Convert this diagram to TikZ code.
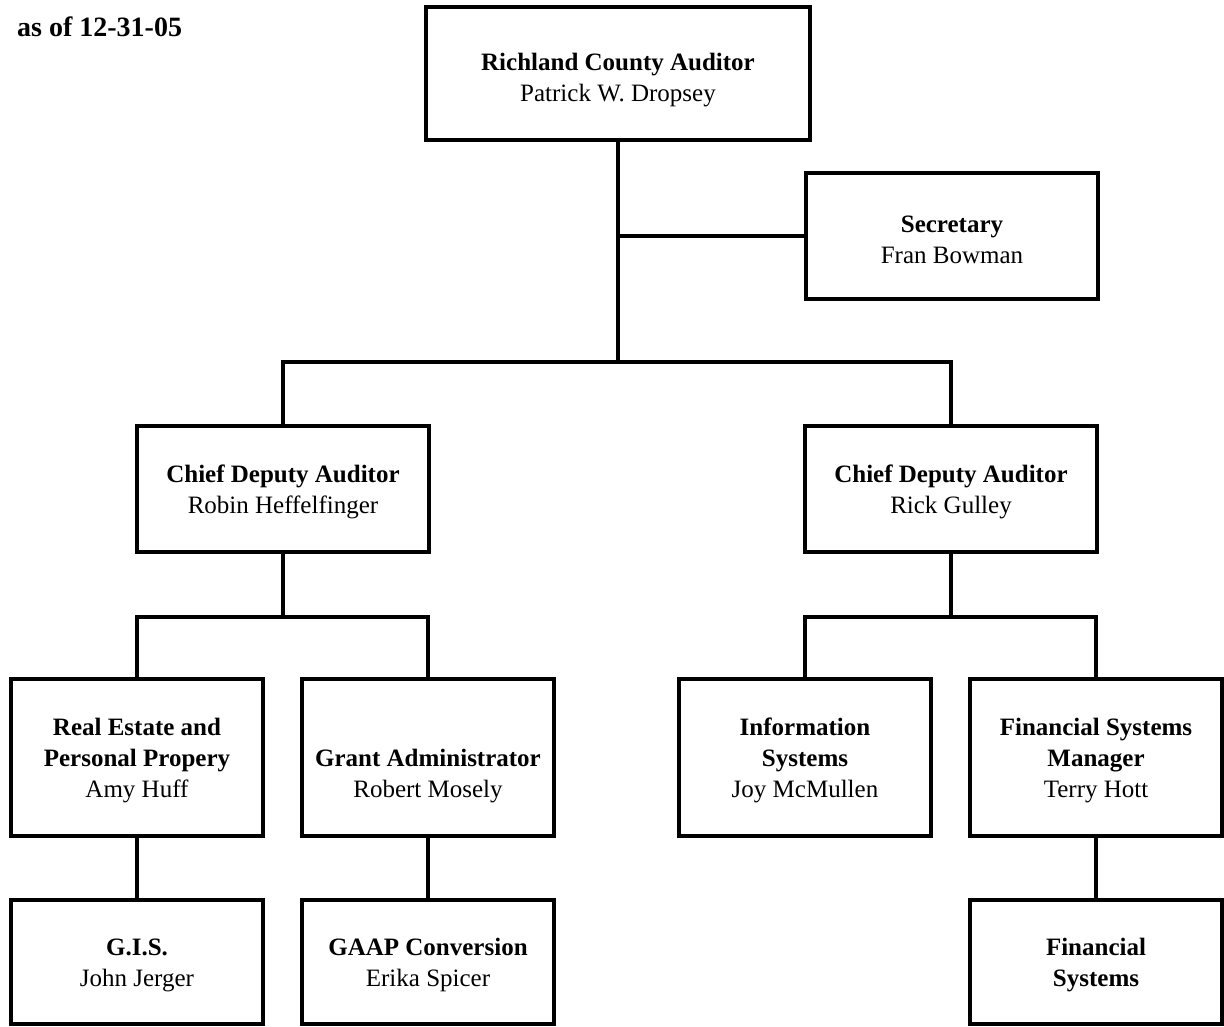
\documentclass[tikz,border=0pt]{standalone}
\usepackage{fontspec}
\setmainfont{Liberation Serif}
\newcommand{\padA}{\rule{0pt}{24pt}}
\newcommand{\padB}{\rule{0pt}{31pt}}
\begin{document}
\begin{tikzpicture}[x=1pt,y=-1pt,
  box/.style={draw, line width=4pt, inner sep=0pt, align=center, font=\fontsize{25}{31}\selectfont},
  wbox/.style={box, minimum width=292pt, minimum height=126pt},
  sbox/.style={box, minimum width=252pt, minimum height=157pt},
  lbox/.style={box, minimum width=252pt, minimum height=124pt},
  conn/.style={line width=3.5pt}]
\useasboundingbox (0,0) rectangle (1224,1026);
\node[anchor=base west, inner sep=0pt, font=\bfseries\fontsize{28}{34}\selectfont] (date) at (17,36) {as of 12-31-05};
\node[box, minimum width=384pt, minimum height=133pt] (top) at (618,73.5) {\padB\textbf{Richland County Auditor}\\Patrick W. Dropsey};
\node[wbox] (sec) at (952,236) {\padA\textbf{Secretary}\\Fran Bowman};
\node[wbox] (cl) at (283,489) {\padA\textbf{Chief Deputy Auditor}\\Robin Heffelfinger};
\node[wbox] (cr) at (951,489) {\padA\textbf{Chief Deputy Auditor}\\Rick Gulley};
\node[sbox] (re) at (137,757.5) {\padA\textbf{Real Estate and}\\\textbf{Personal Propery}\\Amy Huff};
\node[sbox] (ga) at (428,757.5) {\padA\\\textbf{Grant Administrator}\\Robert Mosely};
\node[sbox] (is) at (805,757.5) {\padA\textbf{Information}\\\textbf{Systems}\\Joy McMullen};
\node[sbox] (fm) at (1096,757.5) {\padA\textbf{Financial Systems}\\\textbf{Manager}\\Terry Hott};
\node[lbox] (gis) at (137,962) {\padA\textbf{G.I.S.}\\John Jerger};
\node[lbox] (gaap) at (428,962) {\padA\textbf{GAAP Conversion}\\Erika Spicer};
\node[lbox] (fs) at (1096,962) {\padA\textbf{Financial}\\\textbf{Systems}};
\coordinate (j1) at (618,362);
\coordinate (j2) at (283,617);
\coordinate (j3) at (951,617);
\draw[conn] (top.south) -- (j1);
\draw[conn] (top.south |- sec.west) -- (sec.west);
\draw[conn] (cl.north) |- (j1) -| (cr.north);
\draw[conn] (cl.south) -- (j2);
\draw[conn] (re.north) |- (j2) -| (ga.north);
\draw[conn] (cr.south) -- (j3);
\draw[conn] (is.north) |- (j3) -| (fm.north);
\draw[conn] (re.south) -- (gis.north);
\draw[conn] (ga.south) -- (gaap.north);
\draw[conn] (fm.south) -- (fs.north);
\end{tikzpicture}
\end{document}
